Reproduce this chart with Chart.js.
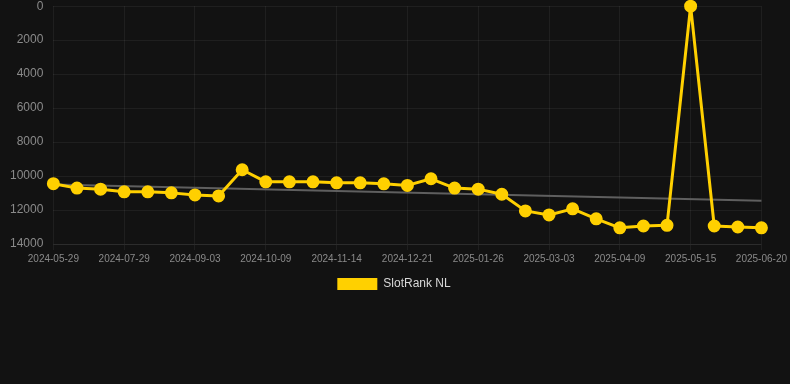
<!DOCTYPE html>
<html>
<head>
<meta charset="utf-8">
<script src="https://cdn.jsdelivr.net/npm/chart.js@4/dist/chart.umd.min.js"></script>
<style>
  html, body { margin: 0; padding: 0; background: #121212; overflow: hidden; }
  #wrap { width: 790px; height: 311px; margin-top: -11px; }
</style>
</head>
<body>
<div id="wrap"><canvas id="rankChart"></canvas></div>
<script>
const labels = [
    "2024-05-29", "2024-06-18", "2024-07-08", "2024-07-29", "2024-08-10", "2024-08-22",
    "2024-09-03", "2024-09-15", "2024-09-27", "2024-10-09", "2024-10-21", "2024-11-02",
    "2024-11-14", "2024-11-26", "2024-12-09", "2024-12-21", "2025-01-02", "2025-01-14",
    "2025-01-26", "2025-02-07", "2025-02-19", "2025-03-03", "2025-03-15", "2025-03-27",
    "2025-04-09", "2025-04-21", "2025-05-03", "2025-05-15", "2025-05-27", "2025-06-08",
    "2025-06-20"
];

// rank values (lower is better, so axis is reversed)
const rankNL = [
    10450, 10710, 10770, 10930, 10930, 10990, 11110, 11170, 9630, 10340,
    10340, 10340, 10400, 10400, 10460, 10550, 10160, 10710, 10770, 11070,
    12050, 12290, 11930, 12520, 13050, 12940, 12900, 0, 12940, 13000,
    13050
];

// trend line: only the two ends, straight line between them
const trendNL = [10500].concat(new Array(29).fill(null), [11460]);

const yTicks = [0, 2000, 4000, 6000, 8000, 10000, 12000, 14000];

const gridColor = "rgba(255,255,255,0.06)";
const tickColor = "#8a8a8a";
const fontFamily = "Arial, 'Liberation Sans', sans-serif";

const ctx = document.getElementById("rankChart").getContext("2d");

const rankChart = new Chart(ctx, {
    type: "line",
    data: {
        labels: labels,
        datasets: [
            {
                label: "SlotRank NL",
                data: rankNL,
                borderColor: "#ffd000",
                backgroundColor: "#ffd000",
                borderWidth: 3,
                borderJoinStyle: "round",
                pointRadius: 5,
                pointHoverRadius: 6,
                pointBackgroundColor: "#ffd000",
                pointBorderColor: "#ffd000",
                tension: 0,
                clip: false,
                order: 1,
            },
            {
                label: "trend",
                data: trendNL,
                borderColor: "#5f5f5f",
                borderWidth: 2,
                pointRadius: 0,
                spanGaps: true,
                tension: 0,
                order: 2,
            },
        ],
    },
    options: {
        responsive: true,
        maintainAspectRatio: false,
        animation: false,
        layout: {
            autoPadding: false,
            padding: { left: 0, right: 2, top: 0, bottom: 0 },
        },
        scales: {
            x: {
                grid: { color: gridColor, tickLength: 6 },
                border: { color: gridColor },
                ticks: {
                    color: tickColor,
                    font: { family: fontFamily, size: 10 },
                    maxRotation: 0,
                    autoSkip: false,
                    callback: function (value, index) {
                        // every third date gets a label and a grid line
                        return index % 3 === 0 ? labels[index] : null;
                    },
                },
            },
            y: {
                reverse: true,
                min: 0,
                max: 14000,
                afterBuildTicks: (axis) => {
                    axis.ticks = yTicks.map((v) => ({ value: v }));
                },
                grid: { color: gridColor, drawTicks: false },
                border: { display: false },
                ticks: {
                    color: tickColor,
                    padding: 10,
                    font: { family: fontFamily, size: 12 },
                    callback: (value) => String(value),
                },
            },
        },
        plugins: {
            legend: {
                position: "bottom",
                labels: {
                    color: "#d8d8d8",
                    boxWidth: 40,
                    boxHeight: 12,
                    font: { family: fontFamily, size: 12 },
                    filter: (item) => item.text === "SlotRank NL",
                    generateLabels: (chart) =>
                        Chart.defaults.plugins.legend.labels.generateLabels(chart).map((item) => {
                            item.lineWidth = 0;
                            return item;
                        }),
                },
            },
            tooltip: { enabled: true },
        },
    },
});
</script>
</body>
</html>
